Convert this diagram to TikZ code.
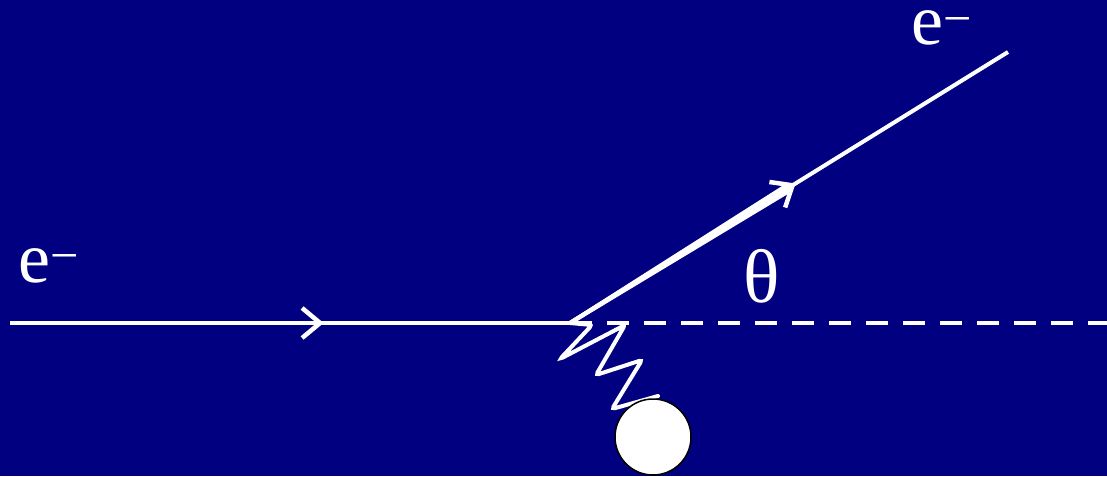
\documentclass[tikz,border=0pt]{standalone}
\usepackage{fontspec}
\setmainfont{Liberation Serif}
\usetikzlibrary{arrows.meta,calc}
\definecolor{bgblue}{RGB}{0,0,128}
\newcommand{\elec}{e\textsuperscript{−}}

\begin{document}
\begin{tikzpicture}[x=1pt,y=-1pt,ln/.style={white,line width=4pt},tip/.style={-{Straight Barb[length=18pt,width=30pt,line width=4.5pt]}},lbl/.style={white,inner sep=0pt,anchor=base west,text height=40pt,font=\fontsize{72}{80}\selectfont}]
\fill[bgblue] (0,0) rectangle (1107,476);
\useasboundingbox (0,0) rectangle (1107,476);
\coordinate (a) at (10,323);
\coordinate (v) at (570,323);
\coordinate (b) at (1008,52);
\coordinate (d) at (1107,323);
\node[lbl] (ein) at (18,282) {\elec};
\node[lbl] (eout) at (911,45) {\elec};
\node[lbl,font=\fontsize{76}{80}\selectfont] (th) at (743,302) {θ};
% incoming electron
\draw[ln] (a)--(v);
\draw[ln,tip] (a)--($(a)!0.56!(v)$);
% outgoing electron
\coordinate (t) at ($(v)!0.50!(b)$);
\draw[ln] (v)--(b);
\fill[white] ($(v)!2pt!90:(t)$)--($(t)!5pt!-90:(v)$)--($(t)!5pt!90:(v)$)--($(v)!2pt!-90:(t)$)--cycle;
\draw[ln,tip] (v)--($(v)!0.515!(b)$);
% angle reference
\draw[ln,dash pattern=on 22pt off 15pt] (v)--(d);
% photon
\draw[ln,rounded corners=3pt,line cap=round] (v)--++(22,2)--++(-32,34)--++(65,-34)--++(-29,50)--++(46,-15)--++(-30,49)--(658,396);
\node[circle,draw=black,fill=white,line width=1.5pt,minimum size=76pt,inner sep=0pt] (nuc) at (653,437) {};
\end{tikzpicture}
\end{document}
